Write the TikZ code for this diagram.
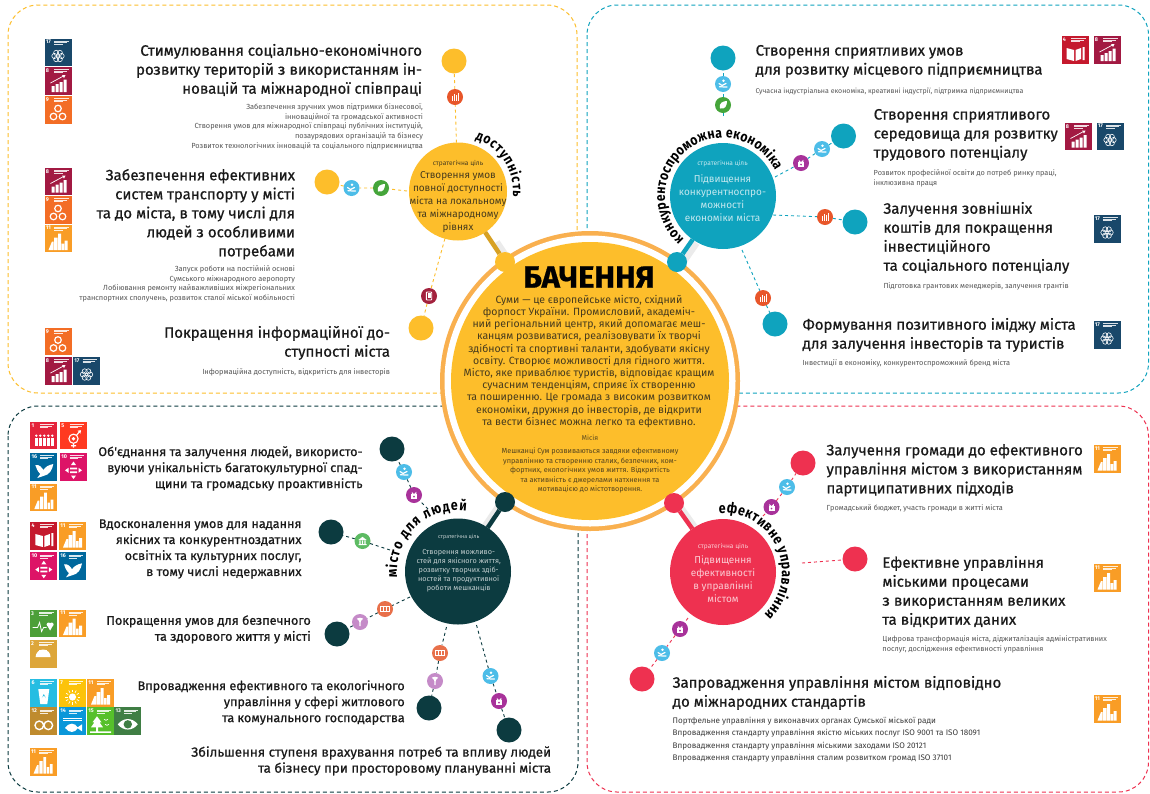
\documentclass[tikz,border=0pt]{standalone}
\usepackage{fontspec}
\setmainfont{Fira Sans}
\newfontfamily\headf[FakeBold=0.7]{Fira Sans}
\newfontfamily\curvef[FakeStretch=0.86]{Fira Sans}
\newfontfamily\titlef[FakeBold=0.6]{Fira Sans}
\usetikzlibrary{decorations.text,calc}
\definecolor{cyel}{HTML}{FDBE2B}
\definecolor{cring}{HTML}{F9B04F}
\definecolor{cteal}{HTML}{0FA3BE}
\definecolor{cdark}{HTML}{0C3B40}
\definecolor{cpink}{HTML}{EE3150}
\definecolor{ctxt}{HTML}{1A1A1A}
\definecolor{csub}{HTML}{555555}
\definecolor{iblue}{HTML}{4DBDE8}
\definecolor{igreen}{HTML}{45A53A}
\definecolor{iorange}{HTML}{E8562A}
\definecolor{imaroon}{HTML}{A3213D}
\definecolor{ipurple}{HTML}{A8329A}
\definecolor{ilime}{HTML}{5DBB63}
\definecolor{icoral}{HTML}{E8704A}
\definecolor{ililac}{HTML}{C58BC8}
\definecolor{sdg1}{HTML}{E5243B}\definecolor{sdg2}{HTML}{DDA63A}
\definecolor{sdg3}{HTML}{4C9F38}\definecolor{sdg4}{HTML}{C5192D}
\definecolor{sdg5}{HTML}{FF3A21}\definecolor{sdg6}{HTML}{26BDE2}
\definecolor{sdg7}{HTML}{FCC30B}\definecolor{sdg8}{HTML}{A21942}
\definecolor{sdg9}{HTML}{F36D25}\definecolor{sdg10}{HTML}{DD1367}
\definecolor{sdg11}{HTML}{F99D26}\definecolor{sdg12}{HTML}{BF8B2E}
\definecolor{sdg13}{HTML}{3F7E44}\definecolor{sdg14}{HTML}{0A97D9}
\definecolor{sdg15}{HTML}{56C02B}\definecolor{sdg16}{HTML}{00689D}
\definecolor{sdg17}{HTML}{19486A}
\pgfdeclarelayer{framelayer}\pgfdeclarelayer{connlayer}
\pgfsetlayers{framelayer,connlayer,main}
\tikzset{
  textbase/.style={inner sep=0pt,outer sep=0pt,execute at begin node=\strut},
  headl/.style={textbase,anchor=north west,align=left,text=ctxt,font=\headf\fontsize{15}{19}\selectfont},
  headr/.style={textbase,anchor=north east,align=right,text=ctxt,font=\headf\fontsize{15}{19}\selectfont},
  headb/.style={textbase,anchor=north east,align=right,text=ctxt,font=\headf\fontsize{12.6}{16}\selectfont},
  subl/.style={textbase,anchor=north west,align=left,text=csub,font=\fontsize{7.35}{9.7}\selectfont},
  subr/.style={textbase,anchor=north east,align=right,text=csub,font=\fontsize{7.4}{9.7}\selectfont},
  subiso/.style={textbase,anchor=north west,align=left,text=csub!70!black,font=\fontsize{8.1}{12.5}\selectfont},
  frame/.style={dashed,dash pattern=on 4pt off 3pt,line width=1pt,rounded corners=30pt},
  goal/.style={circle,minimum size=25pt,inner sep=0pt,outer sep=0pt},
  dot/.style={circle,minimum size=16pt,inner sep=0pt,outer sep=0pt},
  strat/.style={circle,minimum size=106pt,inner sep=0pt,outer sep=0pt},
  joint/.style={circle,minimum size=20pt,inner sep=0pt,outer sep=0pt},
  conn/.style={dash pattern=on 3pt off 3pt,line width=.9pt},
  stem/.style={line width=4.5pt},
  shadowstem/.style={line width=6pt,black!8},
  small/.style={align=center,inner sep=0pt,font=\fontsize{6.6}{8}\selectfont},
  mainstrat/.style={align=center,inner sep=0pt,font=\fontsize{10}{13}\selectfont},
  wh/.style={white,line width=.7pt},
  % ---- SDG tile pictograms, tile is 27 x 27.5
  pics/sdgi1/.code={\foreach \x in {6,10,14,18,22}{\fill[white] (\x,14) circle[radius=1.3];\fill[white] (\x-1.3,16) rectangle (\x+1.3,24);}},
  pics/sdgi2/.code={\fill[white] (6,17) arc[start angle=180,end angle=360,radius=7.5] -- cycle;\draw[wh] (10,15) -- (10,10) (13.5,15) -- (13.5,10) (17,15) -- (17,10);},
  pics/sdgi3/.code={\draw[white,line width=.8pt] (3,18) -- (8,18) -- (10,13) -- (12,22) -- (14,18) -- (17,18);\fill[white] (19,15) circle[radius=2] (22,15) circle[radius=2] (17.6,16) -- (23.4,16) -- (20.5,21) -- cycle;},
  pics/sdgi4/.code={\fill[white] (5,12) -- (12.5,14) -- (12.5,25) -- (5,23) -- cycle (14,14) -- (19.5,12) -- (19.5,23) -- (14,25) -- cycle (21,11) rectangle (23,24);},
  pics/sdgi5/.code={\draw[white,line width=1.1pt] (13.5,17) circle[radius=4.6] (13.5,21.6) -- (13.5,26) (11,24) -- (16,24) (16.5,13.5) -- (20,9.5);\fill[white] (17.5,9) -- (21,8.5) -- (20.5,12) -- cycle;\fill[white] (13.5,17) circle[radius=1.8];},
  pics/sdgi6/.code={\fill[white] (8,10) -- (19,10) -- (17,25) -- (10,25) -- cycle;\fill[sdg6] (13.5,15) -- (15.5,19) arc[start angle=0,end angle=-180,radius=2] -- cycle;},
  pics/sdgi7/.code={\fill[white] (13.5,18) circle[radius=3.6];\foreach \a in {0,30,...,330}{\draw[wh] ($(13.5,18)+(\a:5)$) -- ($(13.5,18)+(\a:7.5)$);}},
  pics/sdgi8/.code={\fill[white] (7,19) rectangle (10,25) (11,17) rectangle (14,25) (15,15) rectangle (18,25) (19,12.5) rectangle (22,25);\draw[wh] (6,16) -- (19,9);\fill[white] (17.5,8) -- (21,8) -- (19.5,11) -- cycle;},
  pics/sdgi9/.code={\draw[white,line width=1.2pt] (13.5,12.5) circle[radius=3.3] (9,20.5) circle[radius=3.3] (18,20.5) circle[radius=3.3];},
  pics/sdgi10/.code={\fill[white] (13.5,8.5) -- (16,12) -- (11,12) -- cycle (13.5,26) -- (16,22.5) -- (11,22.5) -- cycle (5,17.3) -- (8.5,14.8) -- (8.5,19.8) -- cycle (22,17.3) -- (18.5,14.8) -- (18.5,19.8) -- cycle (10,14.5) rectangle (17,16.3) (10,18.3) rectangle (17,20.1);},
  pics/sdgi11/.code={\fill[white] (4,25.5) -- (7.5,17) -- (9,17) -- (9,25.5) -- cycle (9.7,13) rectangle (13,25.5) (13.7,9) rectangle (16.5,25.5) (17.2,19) rectangle (19.5,25.5) (20.2,16) rectangle (23,25.5);},
  pics/sdgi12/.code={\draw[white,line width=1.4pt] (9,18) circle[radius=4.3] (18,18) circle[radius=4.3];},
  pics/sdgi13/.code={\fill[white] (3.5,17) .. controls (9,10) and (18,10) .. (23.5,17) .. controls (18,24) and (9,24) .. (3.5,17) -- cycle;\fill[sdg13] (13.5,17) circle[radius=4.2];},
  pics/sdgi14/.code={\draw[wh] (4,11) -- (23,11) (4,13.5) -- (23,13.5);\fill[white] (6,20.5) .. controls (10,15) and (16,15) .. (19,20.5) .. controls (16,26) and (10,26) .. (6,20.5) -- cycle (18,20.5) -- (23,17) -- (23,24) -- cycle;},
  pics/sdgi15/.code={\fill[white] (10,9) -- (14.5,15) -- (12.5,15) -- (16,20) -- (4,20) -- (7.5,15) -- (5.5,15) -- cycle (9,20) rectangle (11,24) (3,24) rectangle (24,25.5);\draw[wh] (17,12) -- (19,13) -- (21,12) (18,17) -- (20,18) -- (22,17);},
  pics/sdgi16/.code={\fill[white] (5,12) .. controls (9,11) and (12,15) .. (13,17) .. controls (15,14) and (18,12) .. (23,11) .. controls (22,17) and (19,22) .. (13,23) -- (7,25) -- (10,21) .. controls (7,18) and (6,15) .. (5,12) -- cycle;},
  pics/sdgi17/.code={\foreach \a in {0,60,...,300}{\draw[white,line width=.6pt] ($(13.5,17.5)+(\a:3.6)$) circle[radius=2.6];}},
  % ---- little round goal icons
  pics/icwave/.code={\fill[white] (.5,-3.2) circle[radius=1.4];\draw[white,line width=1.2pt,line cap=round] (-4,-.5) -- (-1,1.5) -- (3,-.5) (-3.5,2.8) .. controls (-1,4) and (1,1.8) .. (4,3);},
  pics/icleaf/.code={\fill[white] (-3,3.5) .. controls (-4.5,-2) and (0,-4) .. (4,-4) .. controls (4,1) and (2,4.5) .. (-3,3.5) -- cycle;},
  pics/icbars/.code={\draw[white,line width=.8pt] (-3,3.5) -- (-3,-1) (-1,3.5) -- (-1,-3) (1,3.5) -- (1,-2) (3.5,3.5) -- (3.5,-4);},
  pics/icphone/.code={\draw[white,line width=.9pt,rounded corners=.8pt] (-2.7,-4) rectangle (2.7,4);\fill[white] (-1.5,-2.7) rectangle (1.5,1.8);},
  pics/iclock/.code={\fill[white] (-3,-.8) rectangle (3,4);\draw[white,line width=.9pt] (-1.8,-.8) -- (-1.8,-2) arc[start angle=180,end angle=0,radius=1.8] -- (1.8,-.8);\fill[ipurple] (0,1.6) circle[radius=.9];},
  pics/ichouse/.code={\fill[white] (-4.2,-1) -- (0,-4.2) -- (4.2,-1) -- cycle (-4,3.2) rectangle (4,4.2) (-3.2,-.3) rectangle (-1.9,3) (-.6,-.3) rectangle (.6,3) (1.9,-.3) rectangle (3.2,3);},
  pics/icnote/.code={\draw[white,line width=.8pt] (-4.2,-2.4) rectangle (4.2,2.4) (-1.5,-2.4) -- (-1.5,2.4) (1.5,-2.4) -- (1.5,2.4);},
  pics/icpin/.code={\fill[white] (-3.2,-3.4) .. controls (-1,-4.6) and (1,-4.6) .. (3.2,-3.4) -- (.8,-.8) -- (.5,4) -- (-.5,4) -- (-.8,-.8) -- cycle;},
}
\newcommand{\sdgtile}[3]{%
  \begin{scope}[shift={(#1,#2)}]
    \fill[sdg#3] (0,0) rectangle (27,27.5);
    \node[anchor=north west,inner sep=0pt,text=white,font=\fontsize{5.4}{6}\selectfont\bfseries] (tile-#1-#2) at (1.2,1.6) {#3};
    \draw[white,line width=.45pt,opacity=.85] (9.5,2.6) -- (24,2.6) (9.5,4.1) -- (22,4.1) (9.5,5.6) -- (18,5.6);
    \pic at (0,0) {sdgi#3};
  \end{scope}}
\newcommand{\curved}[7]{% cx,cy,r,start,end,size,text
  \begin{scope}[shift={(#1,#2)},y=1pt]
    \path[decorate,decoration={text along path,text align={fit to path},
      text={|\curvef\bfseries\fontsize{#6}{14}\selectfont|#7}}]
      ({#3*cos(#4)},{#3*sin(#4)}) arc[start angle=#4,end angle=#5,radius=#3];
  \end{scope}}
\newcommand{\icdot}[4]{\node[dot,fill=#3] (#1) at (#2) {};\begin{scope}[shift={(#2)}]\pic at (0,0) {#4};\end{scope}}
\begin{document}
\begin{tikzpicture}[x=1pt,y=-1pt]
\useasboundingbox (0,0) rectangle (1150,793);

% ---------- frames
\begin{pgfonlayer}{framelayer}
\fill[white] (0,0) rectangle (1150,793);
\draw[frame,cyel]  (8,5)   rectangle (577,393);
\draw[frame,cteal] (587,5) rectangle (1148.5,393);
\draw[frame,cdark] (8,406) rectangle (578,792);
\draw[frame,cpink] (587,406) rectangle (1148.5,792);
\end{pgfonlayer}

% ---------- central disc
\node[circle,minimum size=300pt,inner sep=0pt,fill=cring] (ringouter) at (590,381) {};
\node[circle,minimum size=291pt,inner sep=0pt,fill=white] (ringgap) at (590,381) {};
\node[circle,minimum size=278pt,inner sep=0pt,fill=cyel] (vision) at (590,381) {};

% joints' soft shadows sit under everything else
\coordinate (syc) at (458,191.5);
\coordinate (stc) at (723,196);
\coordinate (sdc) at (458,571.5);
\coordinate (spc) at (723,572);
\coordinate (jyc) at (505,262);
\coordinate (jtc) at (677,262);
\coordinate (jdc) at (505,502);
\coordinate (jpc) at (674,503);
\draw[shadowstem] ($(jyc)+(6,1)$) -- ($(jyc)!.3!(syc)+(6,1)$);
\draw[shadowstem] ($(jtc)+(6,1)$) -- ($(jtc)!.3!(stc)+(6,1)$);
\draw[shadowstem] ($(jdc)+(-6,3)$) -- ($(jdc)!.3!(sdc)+(-6,3)$);
\draw[shadowstem] ($(jpc)+(6,3)$) -- ($(jpc)!.3!(spc)+(6,3)$);

% ---------- strategic circles
\node[strat,fill=cyel,minimum size=98pt]  (sy) at (syc) {};
\node[strat,fill=cteal] (st) at (stc) {};
\node[strat,fill=cdark] (sd) at (sdc) {};
\node[strat,fill=cpink] (sp) at (spc) {};

\node[joint,fill=cyel]  (jy) at (jyc) {};
\node[joint,fill=cteal] (jt) at (jtc) {};
\node[joint,fill=cdark] (jd) at (jdc) {};
\node[joint,fill=cpink] (jp) at (jpc) {};
\draw[stem,cyel!85!black]  (sy) -- (jy);
\draw[stem,cteal] (st) -- (jt);
\draw[stem,cdark] (sd) -- (jd);
\draw[stem,cpink] (sp) -- (jp);

% ---------- goal circles
\node[goal,fill=cyel] (gy1) at (454,61) {};
\node[goal,fill=cyel] (gy2) at (327,182) {};
\node[goal,fill=cyel] (gy3) at (421,328) {};
\node[goal,fill=cteal] (gt1) at (723,58) {};
\node[goal,fill=cteal] (gt2) at (843.5,136) {};
\node[goal,fill=cteal] (gt3) at (855,222) {};
\node[goal,fill=cteal] (gt4) at (775,324) {};
\node[goal,fill=cdark] (gd1) at (392,449) {};
\node[goal,fill=cdark] (gd2) at (331,532) {};
\node[goal,fill=cdark] (gd3) at (337,634) {};
\node[goal,fill=cdark] (gd4) at (429,708) {};
\node[goal,fill=cdark] (gd5) at (509,730) {};
\node[goal,fill=cpink] (gp1) at (803,463) {};
\node[goal,fill=cpink] (gp2) at (855,559) {};
\node[goal,fill=cpink] (gp3) at (642,679) {};

% ---------- small icon dots
\icdot{dy1}{455,97}{iorange}{icbars}
\icdot{dy2}{351.5,188}{iblue}{icwave}
\icdot{dy3}{381,188}{igreen}{icleaf}
\icdot{dy4}{429,296}{imaroon}{icphone}
\icdot{dt1}{723,84}{iblue}{icwave}
\icdot{dt2}{723,105}{igreen}{icleaf}
\icdot{dt3}{822,149}{iblue}{icwave}
\icdot{dt4}{801,163}{ipurple}{iclock}
\icdot{dt5}{825,217}{iorange}{icbars}
\icdot{dt6}{763,298}{iorange}{icbars}
\icdot{dd1}{404,472}{iblue}{icwave}
\icdot{dd2}{414,495}{ipurple}{iclock}
\icdot{dd3}{362.5,541}{ilime}{ichouse}
\icdot{dd4}{385,609}{icoral}{icnote}
\icdot{dd5}{360,622}{ililac}{icpin}
\icdot{dd6}{440,653}{icoral}{icnote}
\icdot{dd7}{435,681}{ililac}{icpin}
\icdot{dd8}{490.5,676}{iblue}{icwave}
\icdot{dd9}{499,701}{ipurple}{iclock}
\icdot{dp1}{787,487}{iblue}{icwave}
\icdot{dp2}{771.5,507}{ipurple}{iclock}
\icdot{dp3}{680,629}{ipurple}{iclock}
\icdot{dp4}{662,653}{iblue}{icwave}

% ---------- connector free ends
\coordinate (fy2) at (407,191);
\coordinate (ft1) at (723,116);
\coordinate (ft2) at (775,177);
\coordinate (ft3) at (773,215);
\coordinate (ft4) at (742,250);
\coordinate (fd1) at (428,509);
\coordinate (fd2) at (390,550);
\coordinate (fd3) at (410,597);
\coordinate (fd4) at (446.5,627);
\coordinate (fd5) at (476.5,625);
\coordinate (fp1) at (763,516);
\coordinate (fp2) at (802,563);
\coordinate (fp3) at (688,618);

\begin{pgfonlayer}{connlayer}
\draw[conn,cyel] (sy) -- (dy1) -- (gy1);
\draw[conn,cyel] (fy2) -- (dy3) -- (dy2) -- (gy2);
\draw[conn,cyel] (sy) -- (dy4) -- (gy3);
\draw[conn,cteal] (ft1) -- (dt2) -- (dt1) -- (gt1);
\draw[conn,cteal] (ft2) -- (dt4) -- (dt3) -- (gt2);
\draw[conn,cteal] (ft3) -- (dt5) -- (gt3);
\draw[conn,cteal] (ft4) -- (dt6) -- (gt4);
\draw[conn,cdark] (fd1) -- (dd2) -- (dd1) -- (gd1);
\draw[conn,cdark] (fd2) -- (dd3) -- (gd2);
\draw[conn,cdark] (fd3) -- (dd4) -- (dd5) -- (gd3);
\draw[conn,cdark] (fd4) -- (dd6) -- (dd7) -- (gd4);
\draw[conn,cdark] (fd5) -- (dd8) -- (dd9) -- (gd5);
\draw[conn,cpink] (fp1) -- (dp2) -- (dp1) -- (gp1);
\draw[conn,cpink] (fp2) -- (gp2);
\draw[conn,cpink] (fp3) -- (dp3) -- (dp4) -- (gp3);
\end{pgfonlayer}

% ---------- curved labels
\curved{458}{191.5}{55}{72}{-6}{14}{доступність}
\curved{723}{196}{58}{228}{26}{14.2}{конкурентоспроможна економіка}
\curved{458}{571.5}{61}{186}{82}{14.5}{місто для людей}
\curved{723}{572}{59}{94}{-46}{14.5}{ефективне управління}

% ---------- central text
\node[inner sep=0pt,font=\titlef\bfseries\fontsize{31}{34}\selectfont,text=black] (visiontitle) at (589,277) {БАЧЕННЯ};
\node[align=center,inner sep=0pt,text=ctxt!80!cyel,anchor=north,font=\fontsize{10.5}{12.2}\selectfont] (visionbody) at (589,295) {Суми — це європейське місто, східний\\форпост України. Промисловий, академіч-\\ний регіональний центр, який допомагає меш-\\канцям розвиватися, реалізовувати їх творчі\\здібності та спортивні таланти, здобувати якісну\\освіту.  Створює можливості для гідного життя.\\Місто, яке приваблює туристів, відповідає кращим\\сучасним тенденціям, сприяє їх створенню\\та поширенню. Це громада з високим розвитком\\економіки, дружня до інвесторів, де відкрити\\та вести бізнес можна легко та ефективно.};
\node[inner sep=0pt,text=ctxt!70!cyel,font=\fontsize{7}{9}\selectfont] (missiontitle) at (590,438) {Місія};
\node[align=center,inner sep=0pt,text=ctxt!75!cyel,anchor=north,font=\fontsize{7.3}{9.4}\selectfont] (missionbody) at (590,448) {Мешканці Сум розвиваються завдяки ефективному\\управлінню та створенню сталих, безпечних, ком-\\фортних, екологічних умов життя. Відкритість\\та активність є джерелами натхнення та\\мотивацією до містотворення.};

% ---------- strategic texts
\node[small,text=ctxt!80!cyel] (syl) at (458,164) {стратегічна ціль};
\node[mainstrat,text=ctxt!80!cyel,anchor=north] (syt) at (458,171) {Створення умов\\повної доступності\\міста на локальному\\та міжнародному\\рівнях};
\node[small,text=white!75!cteal] (stl) at (722.5,164) {стратегічна ціль};
\node[mainstrat,text=white!75!cteal,anchor=north] (stt) at (722.5,174) {Підвищення\\конкурентноспро-\\можності\\економіки міста};
\node[small,text=white!75!cdark,font=\fontsize{5.4}{7}\selectfont] (sdl) at (458.7,537) {стратегічна ціль};
\node[small,text=white!75!cdark,anchor=north,font=\fontsize{7.3}{9.1}\selectfont] (sdt) at (458.7,549) {Створення можливо-\\стей для якісного життя,\\розвитку творчих здіб-\\ностей та продуктивної\\роботи мешканців};
\node[small,text=white!75!cpink] (spl) at (723,547) {стратегічна ціль};
\node[mainstrat,text=white!75!cpink,anchor=north] (spt) at (723,555) {Підвищення\\ефективності\\в управлінні\\містом};

% ---------- headings, top left
\node[headr] (h1) at (422,44) {Стимулювання соціально-економічного\\розвитку територій з використанням ін-\\новацій та міжнародної співпраці};
\node[subr] (n1) at (423,103.7) {Забезпечення зручних умов підтримки бізнесової,\\інноваційної та громадської активності\\Створення умов для міжнародної співпраці публічних інституцій,\\позаурядових організацій та бізнесу\\Розвиток технологічних інновацій та соціального підприємництва};
\node[headr] (h2) at (295,169) {Забезпечення ефективних\\систем транспорту у місті\\та до міста, в тому числі для\\людей з особливими\\потребами};
\node[subr] (n2) at (295,265.7) {Запуск роботи на постійній основі\\Сумського міжнародного аеропорту\\Лобіювання ремонту найважливіших міжрегіональних\\транспортних сполучень, розвиток сталої міської мобільності};
\node[headr] (h3) at (390,326) {Покращення інформаційної до-\\ступності міста};
\node[subr] (n3) at (390,367.7) {Інформаційна доступність, відкритість для інвесторів};

% top right
\node[headl] (h4) at (755.6,45) {Створення сприятливих умов\\для розвитку місцевого підприємництва};
\node[subl,font=\fontsize{7}{9.7}\selectfont] (n4) at (755.6,86.7) {Сучасна індустріальна економіка, креативні індустрії, підтримка підприємництва};
\node[headl] (h5) at (873.7,109) {Створення сприятливого\\середовища для розвитку\\трудового потенціалу};
\node[subl] (n5) at (873.7,169.7) {Розвиток професійної освіти до потреб ринку праці,\\інклюзивна праця};
\node[headl] (h6) at (883.5,202) {Залучення зовнішніх\\коштів для покращення\\інвестиційного\\та соціального потенціалу};
\node[subl] (n6) at (883.5,281.7) {Підготовка грантових менеджерів, залучення грантів};
\node[headl] (h7) at (802.5,318) {Формування позитивного іміджу міста\\для залучення інвесторів та туристів};
\node[subl] (n7) at (802.5,358.7) {Інвестиції в економіку, конкурентоспроможний бренд міста};

% bottom left
\node[headb] (h8) at (362.6,446.3) {Об'єднання та залучення людей, використо-\\вуючи унікальність багатокультурної спад-\\щини та громадську проактивність};
\node[headb] (h9) at (301.5,519.3) {Вдосконалення умов для надання\\якісних та конкурентноздатних\\освітніх та культурних послуг,\\в тому числі недержавних};
\node[headb] (h10) at (310.8,615.3) {Покращення умов для безпечного\\та здорового життя у місті};
\node[headb] (h11) at (404.7,680.3) {Впровадження ефективного та екологічного\\управління у сфері житлового\\та комунального господарства};
\node[headb,font=\headf\fontsize{13.3}{16}\selectfont] (h12) at (551,746.3) {Збільшення ступеня врахування потреб та впливу людей\\та бізнесу при просторовому плануванні міста};

% bottom right
\node[headl] (h13) at (826.5,444) {Залучення громади до ефективного\\управління містом з використанням\\партиципативних підходів};
\node[subl] (n13) at (826.5,503.7) {Громадський бюджет, участь громади в житті міста};
\node[headl] (h14) at (882.4,556) {Ефективне управління\\міськими процесами\\з використанням великих\\та відкритих даних};
\node[subl] (n14) at (882.4,635.7) {Цифрова трансформація міста, діджиталізація адміністративних\\послуг, дослідження ефективності управління};
\node[headl] (h15) at (672.7,676) {Запровадження управління містом відповідно\\до міжнародних стандартів};
\node[subiso] (n15) at (672.7,717) {Портфельне управління у виконавчих органах Сумської міської ради\\Впровадження стандарту управління якістю міських послуг ISO 9001 та ISO 18091\\Впровадження стандарту управління міськими заходами ISO 20121\\Впровадження стандарту управління сталим розвитком громад  ISO 37101};

% ---------- SDG tiles
\sdgtile{44.5}{38.5}{17}\sdgtile{44.5}{67}{8}\sdgtile{44.5}{96}{9}
\sdgtile{44.5}{167.5}{8}\sdgtile{44.5}{196}{9}\sdgtile{44.5}{224.5}{11}
\sdgtile{44.5}{327.5}{9}\sdgtile{44.5}{357}{8}\sdgtile{73}{357}{17}
\sdgtile{1061.5}{36}{4}\sdgtile{1093.5}{36}{8}
\sdgtile{1064.5}{122.5}{8}\sdgtile{1096.5}{122.5}{17}
\sdgtile{1093.5}{215}{17}
\sdgtile{1093.5}{321}{17}
\sdgtile{30.3}{421.7}{1}\sdgtile{60}{421.7}{5}
\sdgtile{30.3}{453}{16}\sdgtile{60}{453}{10}
\sdgtile{30.3}{483.5}{11}
\sdgtile{30.3}{522}{4}\sdgtile{59}{522}{11}
\sdgtile{30.3}{552.3}{10}\sdgtile{59}{552.3}{16}
\sdgtile{29.6}{609.5}{3}\sdgtile{59}{609.5}{11}
\sdgtile{29.6}{640}{2}
\sdgtile{30.3}{679}{6}\sdgtile{59}{679}{7}\sdgtile{87}{679}{11}
\sdgtile{30.3}{707.3}{12}\sdgtile{59}{707.3}{14}\sdgtile{87}{707.3}{15}\sdgtile{114.3}{707.3}{13}
\sdgtile{29.6}{748}{11}
\sdgtile{1093.5}{445}{11}\sdgtile{1093.5}{564}{11}\sdgtile{1093.5}{695}{11}
\end{tikzpicture}
\end{document}
